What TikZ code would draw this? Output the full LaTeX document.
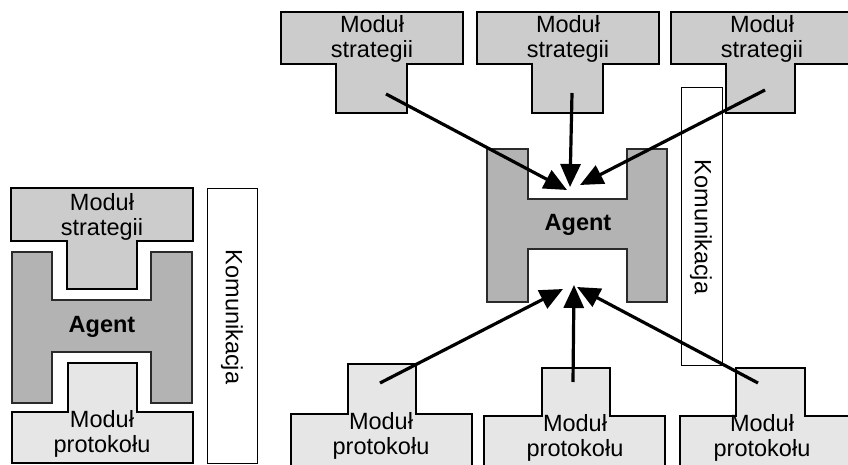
\documentclass[tikz,border=0pt]{standalone}
\usepackage{fontspec}
\setmainfont{Liberation Sans}
\usetikzlibrary{arrows.meta}
\definecolor{stratfill}{HTML}{CCCCCC}
\definecolor{agentfill}{HTML}{B3B3B3}
\definecolor{protofill}{HTML}{E6E6E6}
\definecolor{agentline}{HTML}{2A2A2A}
\tikzset{
  stratshape/.style={draw=black, line width=1.7pt, fill=stratfill, line join=miter},
  protoshape/.style={draw=black, line width=1.7pt, fill=protofill, line join=miter},
  agentshape/.style={draw=agentline, line width=1.1pt, fill=agentfill, line join=miter},
  commbox/.style={draw=black, line width=0.9pt, fill=white},
  lbl/.style={inner sep=0pt, align=center, font=\fontsize{23.5}{25}\selectfont},
  agentlbl/.style={inner sep=0pt, font=\fontsize{23.5}{25}\selectfont\bfseries},
  commlbl/.style={inner sep=0pt, rotate=-90, font=\fontsize{23.5}{25}\selectfont},
  flow/.style={line width=3.2pt, -{Triangle[length=23pt,width=20pt]}}
}
\begin{document}
\begin{tikzpicture}[x=1pt,y=-1pt]
\useasboundingbox (0,0) rectangle (848,465);
\clip (0,0) rectangle (848,465);
\fill[white] (0,0) rectangle (848,465);

% ---------------- left group ----------------
\draw[stratshape] (11,188) -- (193,188) -- (193,241) -- (137,241) -- (137,289) -- (67,289) -- (67,241) -- (11,241) -- cycle;
\draw[agentshape] (12,252) -- (52,252) -- (52,300) -- (151,300) -- (151,252) -- (192,252) -- (192,403) -- (151,403) -- (151,352) -- (52,352) -- (52,403) -- (12,403) -- cycle;
\draw[protoshape] (68,363) -- (137,363) -- (137,412) -- (193,412) -- (193,463) -- (12,463) -- (12,412) -- (68,412) -- cycle;
\draw[commbox] (207,188) rectangle (257,463);

\node[lbl] (ls) at (102,217) {Moduł\\strategii};
\node[agentlbl] (la) at (102,327) {Agent};
\node[lbl] (lp) at (102,434) {Moduł\\protokołu};
\node[commlbl] (lk) at (232,317) {Komunikacja};

% ---------------- right group ----------------
\draw[commbox] (681,87) rectangle (722,365);

\draw[stratshape] (281,12) -- (463,12) -- (463,64) -- (407,64) -- (407,113) -- (336,113) -- (336,64) -- (281,64) -- cycle;
\draw[stratshape] (477,12) -- (659,12) -- (659,64) -- (603,64) -- (603,113) -- (532,113) -- (532,64) -- (477,64) -- cycle;
\draw[stratshape] (671,12) -- (853,12) -- (853,64) -- (795,64) -- (795,113) -- (726,113) -- (726,64) -- (671,64) -- cycle;

\draw[agentshape] (487,149) -- (528,149) -- (528,199) -- (627,199) -- (627,149) -- (667,149) -- (667,302) -- (627,302) -- (627,249) -- (528,249) -- (528,302) -- (487,302) -- cycle;

\draw[protoshape] (348,364) -- (416,364) -- (416,414) -- (472,414) -- (472,466) -- (291,466) -- (291,414) -- (348,414) -- cycle;
\draw[protoshape] (542,368) -- (610,368) -- (610,416) -- (665,416) -- (665,466) -- (484,466) -- (484,416) -- (542,416) -- cycle;
\draw[protoshape] (736,368) -- (805,368) -- (805,416) -- (862,416) -- (862,466) -- (680,466) -- (680,416) -- (736,416) -- cycle;

\node[lbl] (s1) at (372,39) {Moduł\\strategii};
\node[lbl] (s2) at (568,39) {Moduł\\strategii};
\node[lbl] (s3) at (762,39) {Moduł\\strategii};
\node[agentlbl] (ra) at (578,225) {Agent};
\node[lbl] (p1) at (381,436) {Moduł\\protokołu};
\node[lbl] (p2) at (575,438) {Moduł\\protokołu};
\node[lbl] (p3) at (762,438) {Moduł\\protokołu};
\node[commlbl] (rk) at (701,227) {Komunikacja};

% arrow anchors
\coordinate (s1o) at (386,94);
\coordinate (s2o) at (572,93);
\coordinate (s3o) at (765,90);
\coordinate (t1) at (567,190);
\coordinate (t2) at (570,187);
\coordinate (t3) at (580,185);
\coordinate (p1o) at (380,383);
\coordinate (p2o) at (573,382);
\coordinate (p3o) at (758,383);
\coordinate (b1) at (563,289);
\coordinate (b2) at (574,285);
\coordinate (b3) at (577,287);

\draw[flow] (s1o) -- (t1);
\draw[flow] (s2o) -- (t2);
\draw[flow] (s3o) -- (t3);
\draw[flow] (p1o) -- (b1);
\draw[flow] (p2o) -- (b2);
\draw[flow] (p3o) -- (b3);
\end{tikzpicture}
\end{document}
